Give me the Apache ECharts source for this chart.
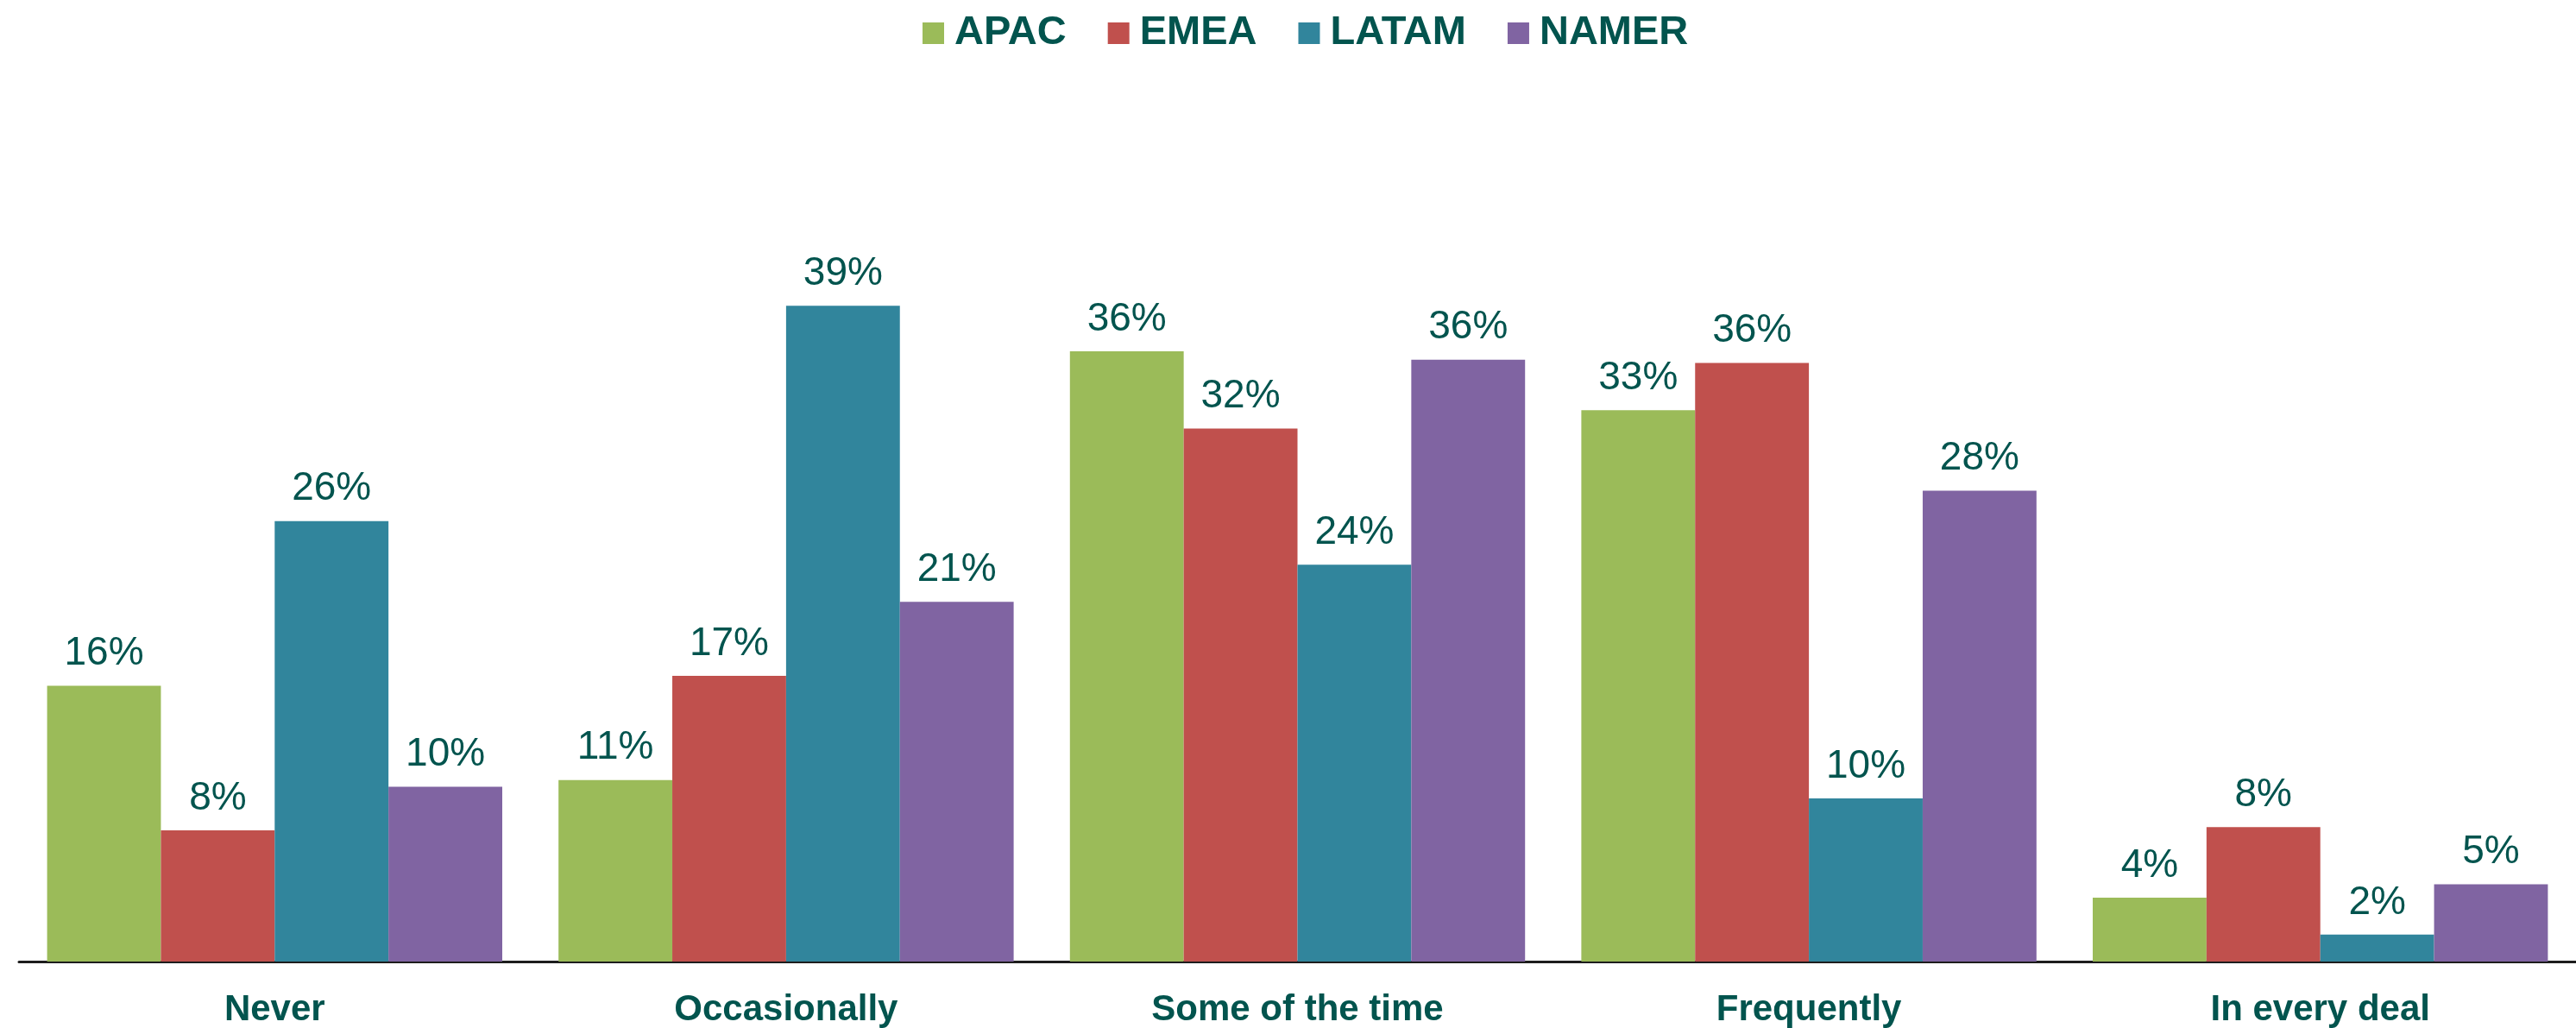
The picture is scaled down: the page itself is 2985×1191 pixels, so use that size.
<!DOCTYPE html>
<html>
<head>
<meta charset="utf-8">
<script src="https://cdn.jsdelivr.net/npm/echarts@6/dist/echarts.min.js"></script>
<style>
  html, body { margin: 0; padding: 0; background: #fff; }
  #chart { width: 2985px; height: 1191px; }
</style>
</head>
<body>
<div id="chart"></div>
<script>
  // categories and regions
  var categories = ['Never', 'Occasionally', 'Some of the time', 'Frequently', 'In every deal'];
  var regions = ['APAC', 'EMEA', 'LATAM', 'NAMER'];

  // share of respondents (%)
  var apac  = [16.4, 10.8, 36.3, 32.8, 3.8];
  var emea  = [7.8, 17.0, 31.7, 35.6, 8.0];
  var latam = [26.2, 39.0, 23.6, 9.7, 1.6];
  var namer = [10.4, 21.4, 35.8, 28.0, 4.6];

  var colors = ['#9BBB59', '#C0504D', '#31859C', '#8064A2'];
  var textColor = '#02544E';
  var fontFamily = '"Liberation Sans", Arial, sans-serif';

  var chart = echarts.init(document.getElementById('chart'));

  let makeSeries = (name, data) => {
    return {
      name: name,
      type: 'bar',
      data: data,
      barGap: 0,
      barCategoryGap: '11%',
      label: {
        show: true,
        position: 'top',
        distance: 14,
        color: textColor,
        fontFamily: fontFamily,
        fontSize: 46,
        formatter: function(p) {
          return Math.round(p.value) + '%';
        }
      }
    };
  };

  var option = {
    color: colors,
    animation: false,
    legend: {
      data: regions,
      top: 10,
      left: 1064,
      itemWidth: 25,
      itemHeight: 25,
      itemGap: 48,
      icon: 'rect',
      textStyle: {
        color: textColor,
        fontFamily: fontFamily,
        fontWeight: 'bold',
        fontSize: 47,
        padding: [0, 0, 0, 7]
      }
    },
    grid: {
      left: 22,
      right: 0,
      top: 237.5,
      bottom: 76,
      containLabel: false
    },
    xAxis: {
      type: 'category',
      data: categories,
      axisTick: { show: false },
      axisLine: { lineStyle: { color: '#1d1d1d', width: 3 } },
      axisLabel: {
        margin: 35,
        color: textColor,
        fontFamily: fontFamily,
        fontWeight: 'bold',
        fontSize: 42,
        interval: 0
      }
    },
    yAxis: {
      type: 'value',
      min: 0,
      max: 45,
      show: false,
      splitLine: { show: false }
    },
    series: [
      makeSeries(regions[0], apac),
      makeSeries(regions[1], emea),
      makeSeries(regions[2], latam),
      makeSeries(regions[3], namer)
    ]
  };

  chart.setOption(option);
</script>
</body>
</html>
